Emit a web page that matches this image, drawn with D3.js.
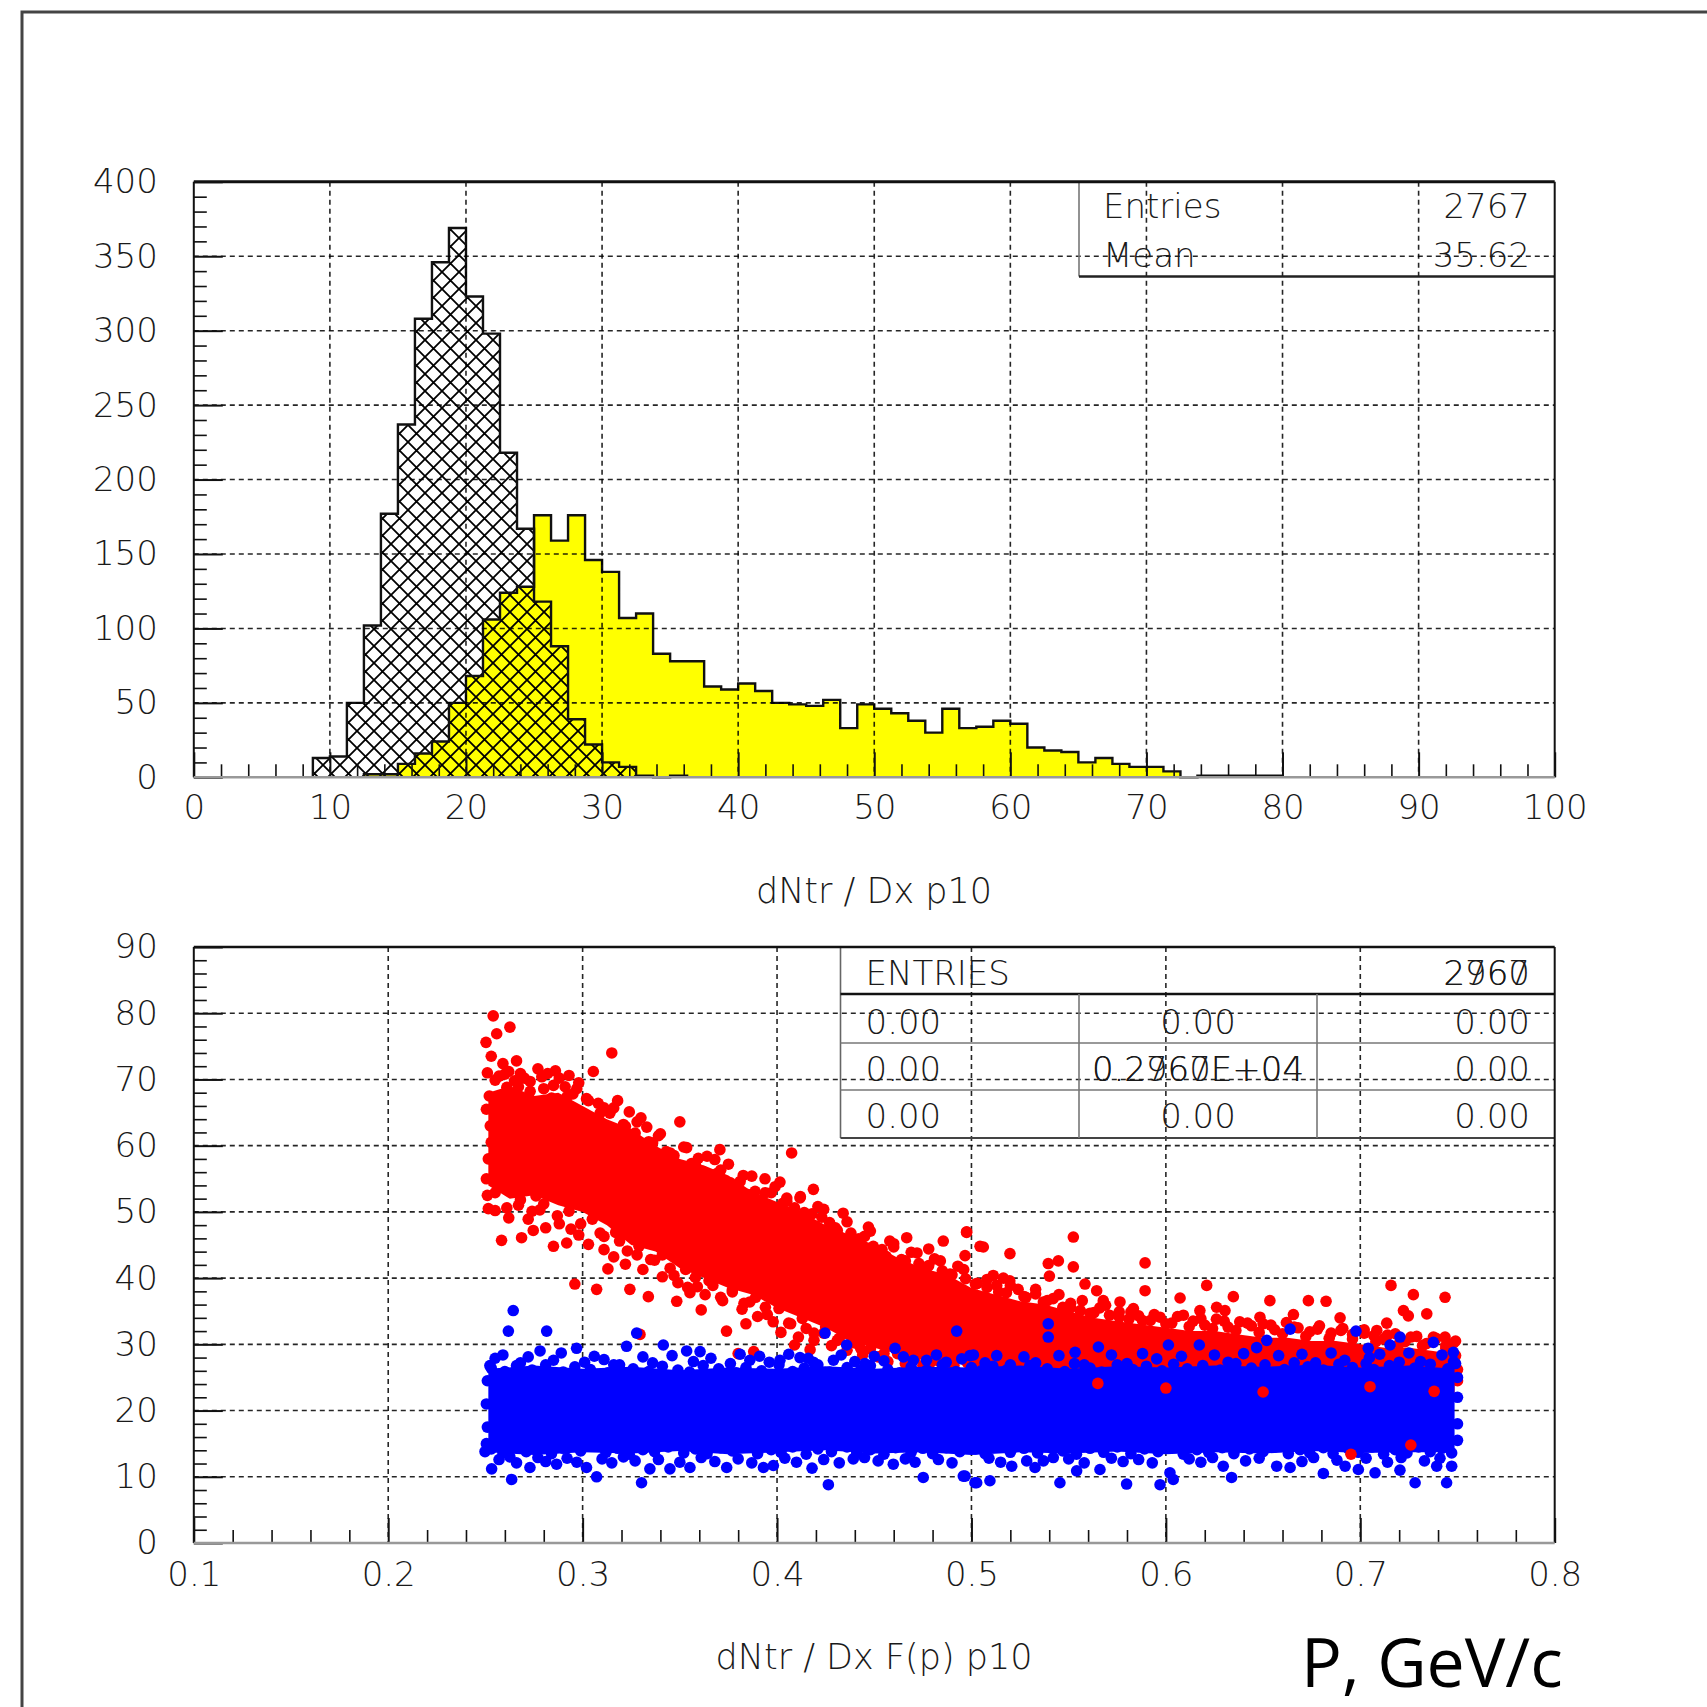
<!DOCTYPE html>
<html>
<head>
<meta charset="utf-8">
<script src="https://cdn.jsdelivr.net/npm/d3@7"></script>
<style>
body { margin: 0; background: #fff; }
text { font-family: 'DejaVu Sans', sans-serif; font-weight: 200; fill: #1a1a1a; }
</style>
</head>
<body>
<div class="canvas"></div>
<script>
// histogram data (bin width 1.25)
const binWidth = 1.25
const hatchStart = 8.75
const hatchCounts = [13, 14, 50, 102, 177, 237, 308, 346, 369, 323, 298, 218, 167, 118, 88, 39, 22, 10, 7, 1, 0, 1]
const yellowStart = 12.5
const yellowCounts = [2, 2, 9, 16, 24, 50, 68, 106, 124, 128, 176, 159, 176, 146, 138, 107, 110, 83, 78, 78,
    61, 59, 63, 58, 50, 49, 48, 52, 33, 49, 46, 43, 38, 30, 46, 33, 34, 38, 36, 20,
    18, 17, 10, 13, 9, 7, 7, 4, 0, 1, 1, 1, 1, 1]
const histXTicks = [0, 10, 20, 30, 40, 50, 60, 70, 80, 90, 100]
const histYTicks = [0, 50, 100, 150, 200, 250, 300, 350, 400]
const histStats = [['Entries', '2767'], ['Mean', '35.62']]

// scatter data
const scatXTicks = [0.1, 0.2, 0.3, 0.4, 0.5, 0.6, 0.7, 0.8]
const scatYTicks = [0, 10, 20, 30, 40, 50, 60, 70, 80, 90]

// dense cores of the two clouds (where the dots merge into a solid patch)
const redCoreX = [.2515, .2625, .275, .2875, .30, .3125, .325, .3375, .35, .3625, .375, .3875, .40, .4125, .425, .4375, .45, .4625, .475, .4875, .50,
    .5125, .525, .5375, .55, .5625, .575, .5875, .60, .6125, .625, .6375, .65, .6625, .675, .6875, .70, .7125, .725, .7375, .7485]
const redCoreHi = [68, 69, 67.5, 68, 66, 64, 62.5, 60, 58, 57, 55.5, 53, 51.5, 50, 48, 46.5, 45, 43, 41.5, 40.5, 38.5,
    37.5, 36.5, 36, 35, 34, 33.5, 33, 32.5, 32, 32, 31.5, 31, 31, 30.5, 30.5, 30, 29.5, 29.5, 29, 28.5]
const redCoreLo = [54, 52, 52.5, 51, 50, 48, 45, 44, 41.5, 40, 38.5, 37.5, 35.5, 34, 32.5, 30.5, 29.5, 28.5, 28, 27.5, 27,
    26.5, 26, 26, 25, 25, 24.5, 24, 24, 24, 23.5, 23.5, 23, 23, 23, 22.5, 22.5, 22, 22, 22, 22]
const blueCoreX = [.2515, .275, .30, .325, .35, .375, .40, .425, .45, .475, .50, .525, .55, .575, .60, .625, .65, .675, .70, .725, .7485]
const blueCoreHi = [26.3, 26.8, 26.3, 26.6, 26.1, 26.5, 26.3, 26.7, 26.3, 26.6, 26.5, 26.8, 26.3, 26.7, 26.5, 26.8, 26.6, 26.9, 26.5, 26.8, 26.3]
const blueCoreLo = [13.7, 13.3, 13.7, 13.5, 13.9, 13.4, 13.7, 14, 13.5, 13.7, 13.3, 13.7, 13.5, 13.8, 13.4, 13.7, 13.5, 13.9, 13.6, 13.7, 13.7]

const redPoints = [
    [.251,71],[.253,73.5],[.254,79.6],[.2558,76.9],[.2626,77.9],[.2503,75.6],[.257,70.5],[.259,72.4],[.262,71.2],[.265,69.8],
    [.268,70.9],[.252,67.5],[.261,68.8],[.266,72.8],[.27,70.2],[.2525,63],[.2515,58],[.2505,55],[.251,52.5],[.2515,50.5],
    [.253,60.5],[.2505,65.5],[.2583,45.7],[.2686,46.1],[.2746,47.2],[.285,44.8],[.2918,45.3],[.255,50.2],[.262,49.1],[.267,51],
    [.272,48.9],[.278,50.3],[.281,47.6],[.288,48.2],[.294,47.4],[.298,46.5],[.264,53],[.276,52.4],[.273,69.7],[.277,71.6],
    [.282,70.9],[.286,71.3],[.288,70.2],[.291,68.9],[.295,67.8],[.298,69.5],[.302,67.1],[.3055,71.2],[.308,66.4],[.315,74],
    [.311,65.7],[.28,68.6],[.293,70.6],[.284,67.2],[.314,64.9],[.318,66.8],[.321,63.2],[.324,65.1],[.327,61.9],[.333,62.8],
    [.34,61.8],[.336,60.4],[.343,59.1],[.35,63.6],[.347,58.5],[.3535,59.7],[.32,61.7],[.33,64.2],[.296,39.1],[.3072,38.3],
    [.3243,38.3],[.3338,37.2],[.311,44.3],[.3484,36.5],[.3552,37.8],[.3295,31.5],[.303,45.1],[.309,46.8],[.316,43.2],[.319,45.6],
    [.322,42.1],[.328,43.5],[.331,41.3],[.337,42.7],[.341,40.2],[.345,41.5],[.349,39.3],[.313,41.4],[.3595,58.1],[.3706,59.4],
    [.3826,55.5],[.3887,53.1],[.3938,55],[.4015,54.5],[.356,57.3],[.362,56.1],[.366,55.2],[.371,56.3],[.376,54.4],[.379,53.2],
    [.385,52.6],[.391,51.8],[.397,52.9],[.368,57.9],[.374,32],[.38,28.6],[.388,28.9],[.354,38.6],[.358,40.1],[.363,37.5],
    [.367,38.9],[.372,36.6],[.377,37.9],[.382,35.3],[.386,36.4],[.39,34.2],[.394,35.6],[.398,33.4],[.361,35.2],[.384,33.1],
    [.4075,58.9],[.4187,53.4],[.405,52.1],[.4118,52.1],[.423,49.2],[.434,49.8],[.418,47.9],[.447,47.7],[.4495,44.8],[.403,51.3],
    [.409,50.6],[.414,49.9],[.427,48.4],[.431,47.2],[.438,46.8],[.442,45.9],[.445,46.3],[.421,50.8],[.402,31.8],[.406,33.2],
    [.411,31.1],[.415,32.4],[.419,30.6],[.424,31.7],[.428,29.8],[.432,30.9],[.436,29.1],[.44,30.2],[.444,28.4],[.448,29.3],
    [.417,29.2],[.409,29.9],[.4667,46.1],[.4855,45.6],[.4975,46.9],[.5044,44.8],[.452,44.1],[.456,43.3],[.46,44.7],[.464,42.8],
    [.469,43.9],[.473,42.2],[.477,41.6],[.481,42.9],[.485,41.1],[.489,40.6],[.493,41.8],[.497,39.9],[.458,45.6],[.478,44.4],
    [.452,28.1],[.457,27.4],[.462,28.6],[.466,27.1],[.471,27.9],[.475,26.8],[.483,27.5],[.49,26.9],[.498,27.2],[.4975,47],
    [.5061,44.7],[.5198,43.7],[.4967,43.4],[.5524,46.2],[.5524,41.7],[.5395,42.2],[.5447,42.6],[.5401,40.3],[.5112,40.4],[.5164,40],
    [.5197,39.6],[.5893,42.3],[.5584,39.1],[.5644,38.1],[.5893,38.1],[.5764,36.4],[.5833,35.4],[.5678,36.6],[.621,38.9],[.6073,37],
    [.6347,37.2],[.6535,36.6],[.6733,36.6],[.6824,36.5],[.7158,38.9],[.7273,37.5],[.7436,37.1],[.6896,34],[.6656,34.5],[.6484,34.1],
    [.7222,35.1],[.7247,34.3],[.7342,34.6],[.6261,35.6],[.6175,35.1],[.6304,35.1],[.7136,33.2],[.7085,32.1],[.7436,31.1],[.7376,31.1],
    [.503,39.2],[.508,38.6],[.513,38.9],[.518,37.8],[.524,38.3],[.528,37.1],[.533,37.6],[.537,36.4],[.542,36.9],[.547,35.6],
    [.551,36.2],[.556,35.1],[.561,34.7],[.566,35.5],[.571,34.4],[.576,34.9],[.581,33.8],[.586,34.3],[.592,33.6],[.597,34.1],
    [.603,33.2],[.609,34.4],[.614,33.5],[.62,32.9],[.626,33.8],[.632,32.6],[.638,33.4],[.644,32.8],[.65,33.1],[.656,32.2],
    [.662,33.3],[.668,32.5],[.674,31.9],[.679,32.8],[.685,31.7],[.691,32.4],[.696,31.5],[.702,32.2],[.707,31.3],[.712,30.8],
    [.718,31.6],[.723,30.4],[.729,31.2],[.734,30.1],[.739,30.9],[.744,29.8],[.749,30.5],[.749,28.3],[.75,26.2],[.75,24.5],
    [.52,26.4],[.535,26.9],[.55,26.2],[.575,26.6],[.59,26.1],[.615,26.8],[.63,26.3],[.66,26.9],[.68,26.4],[.70,26.7],
    [.72,26.2],[.735,26.8],
    // upper edge of the dense part
    [.255,69.9],[.26,70.8],[.267,68.9],[.273,68.2],[.279,70.4],[.285,69.1],[.292,67.4],[.297,68.6],[.303,66.8],[.309,64.9],
    [.316,65.7],[.322,62.9],[.328,63.6],[.334,60.6],[.339,61.5],[.345,58.9],[.352,59.8],[.358,57.1],[.364,58.4],[.369,55.8],
    [.375,57.2],[.381,54.6],[.387,55.4],[.394,52.9],[.399,53.8],[.405,51.6],[.412,52.3],[.418,49.7],[.424,50.4],[.43,47.6],
    [.436,48.5],[.442,45.9],[.448,47.1],[.454,44.3],[.46,45.2],[.466,42.6],[.472,43.8],[.478,41.9],[.484,42.6],[.49,40.5],
    [.496,41.3],[.502,39.1],[.508,39.8],[.514,37.9],[.52,38.9],[.527,37.2],[.533,38.3],[.539,36.6],[.545,37.5],[.551,35.5],
    [.557,36.6],[.563,34.8],[.569,35.9],[.576,34.1],[.582,34.9],[.588,33.6],[.594,34.5],[.6,33.1],[.606,34.2],[.612,32.7],
    [.618,33.9],[.624,32.4],[.63,33.5],[.636,32.1],[.642,33.2],[.648,31.8],[.654,32.9],[.66,31.6],[.666,32.6],[.672,31.2],
    [.678,32.3],[.684,30.9],[.69,32.1],[.696,30.8],[.702,31.7],[.708,30.4],[.714,31.4],[.72,30.1],[.726,31.1],[.732,29.8],
    [.738,30.6],[.744,29.4],[.748,30.2],
    // lower edge of the dense part
    [.255,52.9],[.261,50.6],[.268,51.8],[.274,50.1],[.28,51.2],[.287,49.4],[.293,50.1],[.299,48.2],[.305,48.9],[.311,46.3],
    [.317,46.9],[.323,44.1],[.329,44.8],[.335,42.8],[.341,43.5],[.347,40.4],[.353,41.3],[.359,38.7],[.365,39.6],[.371,37.1],
    [.377,38.2],[.383,36.2],[.389,37.1],[.395,34.5],[.401,35.4],[.407,33.1],[.413,33.9],[.419,31.7],[.425,32.6],[.431,30.6],
    [.437,31.5],[.443,29.4],[.449,30.2],[.455,28.6],[.461,29.5],[.467,27.8],[.473,28.6],[.479,27.3],[.485,28.1],[.491,26.8],
    [.497,27.6],[.503,26.6],[.509,27.2],[.515,26.2]
]
const bluePoints = [
    [.2643,35.1],[.2618,32],[.2815,32],[.3278,31.7],[.3415,29.9],[.3535,29],[.3604,28.9],[.381,28.5],[.3226,29.7],[.2969,29.4],
    [.2781,29],[.2523,26.8],[.4247,31.7],[.4358,29.9],[.4607,29.4],[.4924,32],[.501,28.4],[.4701,27.6],[.4769,27.6],[.4452,27.1],
    [.4015,27.6],[.4118,28],[.4187,27.3],[.5395,33.1],[.6639,32.3],[.6978,32],[.7204,31.1],[.7153,29.9],[.7376,30.3],[.7479,28.8],
    [.6013,29.9],[.6172,29.9],[.5653,29.6],[.5395,31.1],[.6467,29.5],[.6519,30.6],[.7041,29.4],[.7047,28],[.5953,27.8],[.4992,28.3],
    [.5533,28.8],[.255,27.9],[.259,28.4],[.268,27.2],[.272,28.1],[.285,27.6],[.289,28.7],[.301,27.3],[.306,28.2],[.311,27.7],
    [.316,26.9],[.331,28.1],[.336,27.2],[.346,28.3],[.357,27.4],[.366,27.9],[.376,27.1],[.386,27.6],[.391,28.2],[.396,27.3],
    [.406,28.5],[.416,27.9],[.429,27.6],[.433,28.4],[.44,27.4],[.45,28.2],[.455,27.5],[.465,28.1],[.482,28.4],[.487,27.3],
    [.495,27.8],[.507,27.2],[.513,28.3],[.52,26.9],[.527,28.1],[.533,27.2],[.545,28.3],[.558,26.9],[.572,28.4],[.58,27.1],
    [.588,28.6],[.608,28.2],[.625,28.4],[.632,27.3],[.64,28.6],[.658,28.3],[.67,28.5],[.677,27.2],[.685,28.7],[.692,27.6],
    [.71,28.5],[.725,28.7],[.731,27.4],[.742,28.4],[.749,27.1],[.75,25],[.75,22],[.75,18],[.75,15.5],[.251,24.5],
    [.2505,21],[.251,17.5],[.2505,15],[.2498,13.8],[.2532,11.2],[.2635,9.6],[.2626,13],[.2729,11.4],[.2866,11.9],[.302,11.4],
    [.3072,10],[.3303,9.1],[.3449,11.2],[.3552,11.4],[.3741,11.4],[.393,11.4],[.3981,11.7],[.418,11.3],[.4264,8.8],[.4752,9.9],
    [.4958,10.1],[.5018,9.1],[.4392,12.7],[.4598,11.9],[.3346,11.2],[.4967,10.1],[.5027,9.1],[.5095,9.4],[.5455,9.1],[.5798,8.9],
    [.597,8.8],[.6038,9.6],[.6021,10.6],[.6338,9.9],[.6295,11.6],[.6639,11.4],[.657,11.6],[.681,10.5],[.6922,11.6],[.699,11.1],
    [.7076,10.6],[.7204,11],[.7282,9.1],[.7444,9.1],[.747,11.6],[.7393,11.6],[.5541,10.9],[.5661,11.1],[.5327,11.4],[.5207,11.6],
    [.5284,12.4],[.5421,12.9],[.257,12.6],[.266,12.1],[.277,12.9],[.281,12.3],[.292,12.8],[.297,12.2],[.31,12.7],[.315,12.1],
    [.321,13],[.327,12.4],[.339,12.6],[.35,12.2],[.361,12.9],[.368,12.3],[.38,12.7],[.387,12.1],[.404,12.8],[.41,12.2],
    [.424,12.6],[.432,12.1],[.445,12.9],[.452,12.4],[.466,12.7],[.471,12.2],[.483,12.6],[.49,12.1],[.509,12.8],[.515,12.2],
    [.537,12.4],[.55,12.7],[.558,12.1],[.572,12.8],[.578,12.3],[.586,12.6],[.593,12.1],[.612,12.7],[.618,12.2],[.624,12.9],
    [.641,12.4],[.648,12.8],[.67,12.3],[.676,12.9],[.688,12.5],[.703,12.8],[.714,12.2],[.721,12.9],[.733,12.4],[.741,12.8],
    // upper edge of the band
    [.253,26.4],[.26,25.9],[.266,26.8],[.274,26.1],[.281,26.9],[.29,25.8],[.296,26.6],[.304,26.2],[.313,25.7],[.319,26.9],
    [.326,26.3],[.334,25.9],[.341,26.7],[.349,26.1],[.355,25.8],[.362,26.8],[.37,26.3],[.379,25.7],[.384,26.5],[.392,26],
    [.401,26.9],[.408,25.9],[.414,26.4],[.421,26.9],[.427,25.8],[.436,26.5],[.443,26.1],[.448,26.8],[.457,26.2],[.463,25.7],
    [.469,26.6],[.477,26.1],[.485,26.9],[.492,25.9],[.5,26.5],[.505,26],[.511,26.7],[.518,26.1],[.524,25.6],[.53,26.8],
    [.539,26.3],[.548,25.9],[.553,27.1],[.561,26.4],[.567,25.8],[.575,26.9],[.583,26.2],[.59,26.7],[.598,26],[.604,27],
    [.611,26.3],[.619,26.8],[.628,26.1],[.636,27.1],[.644,26.4],[.651,26.9],[.661,26.2],[.666,27.2],[.673,26.6],[.681,26.1],
    [.689,27],[.696,26.5],[.703,27.1],[.707,26.2],[.715,26.8],[.72,27.3],[.728,26.4],[.736,27],[.745,26.3],[.748,27.4],
    // lower edge of the band
    [.253,14.2],[.259,13.6],[.265,14.5],[.271,13.8],[.279,14.4],[.284,13.5],[.29,14.3],[.299,13.9],[.305,14.6],[.312,13.7],
    [.318,14.3],[.324,13.4],[.331,14.1],[.337,13.8],[.344,14.5],[.352,13.6],[.358,14.2],[.364,13.5],[.371,14.4],[.377,13.9],
    [.384,14.6],[.39,13.5],[.397,14.1],[.402,13.7],[.408,14.5],[.415,13.4],[.421,14.2],[.428,13.8],[.436,14.5],[.441,13.6],
    [.448,14.1],[.455,13.4],[.461,14.4],[.469,13.7],[.475,14.3],[.48,13.5],[.487,14.4],[.494,13.8],[.502,14.2],[.507,13.5],
    [.513,14.6],[.52,13.7],[.527,14.3],[.534,13.6],[.541,14.5],[.547,13.9],[.554,13.4],[.561,14.3],[.568,13.7],[.575,14.5],
    [.582,13.5],[.589,14.2],[.596,13.8],[.603,14.6],[.609,13.4],[.616,14.1],[.622,13.7],[.629,14.4],[.635,13.5],[.643,14.2],
    [.65,13.8],[.656,14.5],[.663,13.5],[.669,14.1],[.674,13.6],[.681,14.4],[.686,13.5],[.694,14.2],[.699,13.7],[.706,14.5],
    [.712,13.4],[.718,14.1],[.724,13.6],[.73,14.5],[.736,13.8],[.742,14.3],[.747,13.6]
]
// a few red hits that sit in front of the blue band
const redFront = [[.6952,13.4],[.726,14.8],[.6,23.4],[.65,22.8],[.705,23.6],[.738,22.9],[.565,24.1]]

const scatStatsHead = ['ENTRIES', '2960', '2767']
const scatStatsRows = [
    ['0.00', ['0.00'], '0.00'],
    ['0.00', ['0.2960E+04', '0.2767E+04'], '0.00'],
    ['0.00', ['0.00'], '0.00']
]

const W = 1707, H = 1707
const svg = d3.select('.canvas').append('svg').attr('width', W).attr('height', H)

// outer frame
svg.append('path').attr('d', `M22,${H + 5}L22,12L${W + 5},12`)
    .attr('fill', 'none').attr('stroke', '#444').attr('stroke-width', 3)

const defs = svg.append('defs')
const hs = 17
const pat = defs.append('pattern').attr('id', 'xhatch').attr('patternUnits', 'userSpaceOnUse')
    .attr('width', hs).attr('height', hs)
pat.append('path').attr('d', `M0,0L${hs},${hs}M${hs},0L0,${hs}`)
    .attr('stroke', '#000').attr('stroke-width', 1.8)

const fontSize = 34
const dash = '5,4'

// ---------------- top: histogram ----------------
const p1 = { left: 193.8, right: 1554.7, top: 181.8, bottom: 777.3 }
const x1 = d3.scaleLinear().domain([0, 100]).range([p1.left, p1.right])
const y1 = d3.scaleLinear().domain([0, 400]).range([p1.bottom, p1.top])

function histOutline(start, counts) {
    const pts = [[start, 0]]
    counts.forEach((c, i) => {
        pts.push([start + i * binWidth, c])
        pts.push([start + (i + 1) * binWidth, c])
    })
    pts.push([start + counts.length * binWidth, 0])
    return pts
}
const histLine = d3.line().x(d => x1(d[0])).y(d => y1(d[1]))

const yellowPts = histOutline(yellowStart, yellowCounts)
const hatchPts = histOutline(hatchStart, hatchCounts)

const histG = svg.append('g')
histG.append('path').attr('d', histLine(yellowPts) + 'Z').attr('fill', '#ffff00').attr('stroke', 'none')
histG.append('path').attr('d', histLine(hatchPts) + 'Z').attr('fill', 'url(#xhatch)').attr('stroke', 'none')
histG.append('path').attr('d', histLine(yellowPts)).attr('fill', 'none').attr('stroke', '#111').attr('stroke-width', 2.4)
histG.append('path').attr('d', histLine(hatchPts)).attr('fill', 'none').attr('stroke', '#111').attr('stroke-width', 2.4)

// grid
histG.selectAll('.gx').data(histXTicks.slice(1, -1)).enter().append('line')
    .attr('x1', d => x1(d)).attr('x2', d => x1(d)).attr('y1', p1.top).attr('y2', p1.bottom)
    .attr('stroke', '#000').attr('stroke-width', 1.6).attr('stroke-dasharray', dash).attr('opacity', 0.85)
histG.selectAll('.gy').data(histYTicks.slice(1, -1)).enter().append('line')
    .attr('x1', p1.left).attr('x2', p1.right).attr('y1', d => y1(d)).attr('y2', d => y1(d))
    .attr('stroke', '#000').attr('stroke-width', 1.6).attr('stroke-dasharray', dash).attr('opacity', 0.85)

// stats box
const sb = { x0: 1079, x1: 1555, y0: 181.8, y1: 276.5 }
histG.append('line').attr('x1', sb.x0).attr('x2', sb.x0).attr('y1', sb.y0).attr('y2', sb.y1).attr('stroke', '#777').attr('stroke-width', 1.6)
histG.append('line').attr('x1', sb.x0).attr('x2', sb.x1).attr('y1', sb.y1).attr('y2', sb.y1).attr('stroke', '#222').attr('stroke-width', 2.4)
histStats.forEach((r, i) => {
    histG.append('text').attr('x', 1103).attr('y', 218 + i * 49).attr('font-size', fontSize).text(r[0])
    histG.append('text').attr('x', 1530).attr('y', 218 + i * 49).attr('font-size', fontSize).attr('text-anchor', 'end').text(r[1])
})

// axes
function styleAxis(g) {
    g.select('.domain').remove()
    g.selectAll('line').attr('stroke', '#111')
    g.selectAll('text').attr('font-size', fontSize).attr('font-family', 'DejaVu Sans').attr('font-weight', 200).attr('fill', '#1a1a1a')
}
const x1Minor = d3.range(0, 101, 2).filter(d => d % 10 !== 0)
const y1Minor = d3.range(0, 401, 10).filter(d => d % 50 !== 0)

histG.append('g').attr('transform', `translate(0,${p1.bottom})`)
    .call(d3.axisBottom(x1).tickValues(x1Minor).tickSize(-13).tickFormat(''))
    .call(styleAxis).selectAll('line').attr('stroke-width', 1.6)
histG.append('g').attr('transform', `translate(0,${p1.bottom})`)
    .call(d3.axisBottom(x1).tickValues(histXTicks).tickSize(-25).tickPadding(18).tickFormat(d3.format('d')))
    .call(styleAxis).selectAll('line').attr('stroke-width', 2)
histG.append('g').attr('transform', `translate(${p1.left},0)`)
    .call(d3.axisLeft(y1).tickValues(y1Minor).tickSize(-13).tickFormat(''))
    .call(styleAxis).selectAll('line').attr('stroke-width', 1.6)
histG.append('g').attr('transform', `translate(${p1.left},0)`)
    .call(d3.axisLeft(y1).tickValues(histYTicks).tickSize(-29).tickPadding(36).tickFormat(d3.format('d')))
    .call(styleAxis).selectAll('line').attr('stroke-width', 2)

// frame
histG.append('line').attr('x1', p1.left).attr('x2', p1.right).attr('y1', p1.top).attr('y2', p1.top).attr('stroke', '#111').attr('stroke-width', 3)
histG.append('line').attr('x1', p1.right).attr('x2', p1.right).attr('y1', p1.top).attr('y2', p1.bottom).attr('stroke', '#111').attr('stroke-width', 2)
histG.append('line').attr('x1', p1.left).attr('x2', p1.left).attr('y1', p1.top).attr('y2', p1.bottom).attr('stroke', '#111').attr('stroke-width', 2)
histG.append('line').attr('x1', p1.left).attr('x2', p1.right).attr('y1', p1.bottom).attr('y2', p1.bottom).attr('stroke', '#999').attr('stroke-width', 2.5)

histG.append('text').attr('x', 874).attr('y', 903).attr('font-size', 35).attr('text-anchor', 'middle').text('dNtr / Dx p10')

// ---------------- bottom: scatter ----------------
const p2 = { left: 193.8, right: 1554.7, top: 947, bottom: 1543 }
const x2 = d3.scaleLinear().domain([0.1, 0.8]).range([p2.left, p2.right])
const y2 = d3.scaleLinear().domain([0, 90]).range([p2.bottom, p2.top])

const scatG = svg.append('g')

scatG.selectAll('.gx').data(scatXTicks.slice(1, -1)).enter().append('line')
    .attr('x1', d => x2(d)).attr('x2', d => x2(d)).attr('y1', p2.top).attr('y2', p2.bottom)
    .attr('stroke', '#000').attr('stroke-width', 1.6).attr('stroke-dasharray', dash).attr('opacity', 0.85)
scatG.selectAll('.gy').data(scatYTicks.slice(1, -1)).enter().append('line')
    .attr('x1', p2.left).attr('x2', p2.right).attr('y1', d => y2(d)).attr('y2', d => y2(d))
    .attr('stroke', '#000').attr('stroke-width', 1.6).attr('stroke-dasharray', dash).attr('opacity', 0.85)

const r = 5.8
const redCore = redCoreX.map((x, i) => [x, redCoreLo[i], redCoreHi[i]])
const blueCore = blueCoreX.map((x, i) => [x, blueCoreLo[i], blueCoreHi[i]])
const coreArea = d3.area().x(d => x2(d[0])).y0(d => y2(d[1])).y1(d => y2(d[2]))

scatG.append('path').attr('d', coreArea(redCore)).attr('fill', '#ff0000')
scatG.selectAll('.rp').data(redPoints).enter().append('circle')
    .attr('cx', d => x2(d[0])).attr('cy', d => y2(d[1])).attr('r', r).attr('fill', '#ff0000')
scatG.append('path').attr('d', coreArea(blueCore)).attr('fill', '#0000ff')
scatG.selectAll('.bp').data(bluePoints).enter().append('circle')
    .attr('cx', d => x2(d[0])).attr('cy', d => y2(d[1])).attr('r', r).attr('fill', '#0000ff')
scatG.selectAll('.rf').data(redFront).enter().append('circle')
    .attr('cx', d => x2(d[0])).attr('cy', d => y2(d[1])).attr('r', r).attr('fill', '#ff0000')

// stats table
const tb = { x: [840.5, 1079, 1317, 1555], y: [947, 994, 1043, 1090, 1138] }
scatG.append('line').attr('x1', tb.x[0]).attr('x2', tb.x[0]).attr('y1', tb.y[0]).attr('y2', tb.y[4]).attr('stroke', '#666').attr('stroke-width', 1.6)
scatG.append('line').attr('x1', tb.x[0]).attr('x2', tb.x[3]).attr('y1', tb.y[1]).attr('y2', tb.y[1]).attr('stroke', '#111').attr('stroke-width', 2.6)
;[tb.y[2], tb.y[3]].forEach(y => scatG.append('line').attr('x1', tb.x[0]).attr('x2', tb.x[3]).attr('y1', y).attr('y2', y).attr('stroke', '#777').attr('stroke-width', 1.6))
scatG.append('line').attr('x1', tb.x[0]).attr('x2', tb.x[3]).attr('y1', tb.y[4]).attr('y2', tb.y[4]).attr('stroke', '#444').attr('stroke-width', 2)
;[tb.x[1], tb.x[2]].forEach(x => scatG.append('line').attr('x1', x).attr('x2', x).attr('y1', tb.y[1]).attr('y2', tb.y[4]).attr('stroke', '#777').attr('stroke-width', 1.6))

scatG.append('text').attr('x', 865.5).attr('y', 985).attr('font-size', fontSize).text(scatStatsHead[0])
scatStatsHead.slice(1).forEach(t => scatG.append('text').attr('x', 1530).attr('y', 985).attr('font-size', fontSize).attr('text-anchor', 'end').text(t))
scatStatsRows.forEach((row, i) => {
    const yb = 1034 + i * 47
    scatG.append('text').attr('x', 865.5).attr('y', yb).attr('font-size', fontSize).text(row[0])
    row[1].forEach(t => scatG.append('text').attr('x', 1198).attr('y', yb).attr('font-size', fontSize).attr('text-anchor', 'middle').text(t))
    scatG.append('text').attr('x', 1530).attr('y', yb).attr('font-size', fontSize).attr('text-anchor', 'end').text(row[2])
})

// axes
const x2Minor = d3.range(10, 81, 2).map(d => d / 100).filter((d, i) => i % 5 !== 0)
const y2Minor = d3.range(0, 91, 2).filter(d => d % 10 !== 0)
scatG.append('g').attr('transform', `translate(0,${p2.bottom})`)
    .call(d3.axisBottom(x2).tickValues(x2Minor).tickSize(-13).tickFormat(''))
    .call(styleAxis).selectAll('line').attr('stroke-width', 1.6)
scatG.append('g').attr('transform', `translate(0,${p2.bottom})`)
    .call(d3.axisBottom(x2).tickValues(scatXTicks).tickSize(-25).tickPadding(19).tickFormat(d3.format('.1f')))
    .call(styleAxis).selectAll('line').attr('stroke-width', 2)
scatG.append('g').attr('transform', `translate(${p2.left},0)`)
    .call(d3.axisLeft(y2).tickValues(y2Minor).tickSize(-13).tickFormat(''))
    .call(styleAxis).selectAll('line').attr('stroke-width', 1.6)
scatG.append('g').attr('transform', `translate(${p2.left},0)`)
    .call(d3.axisLeft(y2).tickValues(scatYTicks).tickSize(-29).tickPadding(36).tickFormat(d3.format('d')))
    .call(styleAxis).selectAll('line').attr('stroke-width', 2)

scatG.append('line').attr('x1', p2.left).attr('x2', p2.right).attr('y1', p2.top).attr('y2', p2.top).attr('stroke', '#111').attr('stroke-width', 2.5)
scatG.append('line').attr('x1', p2.right).attr('x2', p2.right).attr('y1', p2.top).attr('y2', p2.bottom).attr('stroke', '#111').attr('stroke-width', 2)
scatG.append('line').attr('x1', p2.left).attr('x2', p2.left).attr('y1', p2.top).attr('y2', p2.bottom).attr('stroke', '#111').attr('stroke-width', 2)
scatG.append('line').attr('x1', p2.left).attr('x2', p2.right).attr('y1', p2.bottom).attr('y2', p2.bottom).attr('stroke', '#999').attr('stroke-width', 2.5)

scatG.append('text').attr('x', 874).attr('y', 1669).attr('font-size', 35).attr('text-anchor', 'middle').text('dNtr / Dx F(p) p10')
svg.append('text').attr('x', 1301).attr('y', 1687).attr('font-size', 68)
    .style('font-family', "'Open Sans', 'Noto Sans', sans-serif").style('font-weight', 400).style('fill', '#000').text('P, GeV/c')
</script>
</body>
</html>
